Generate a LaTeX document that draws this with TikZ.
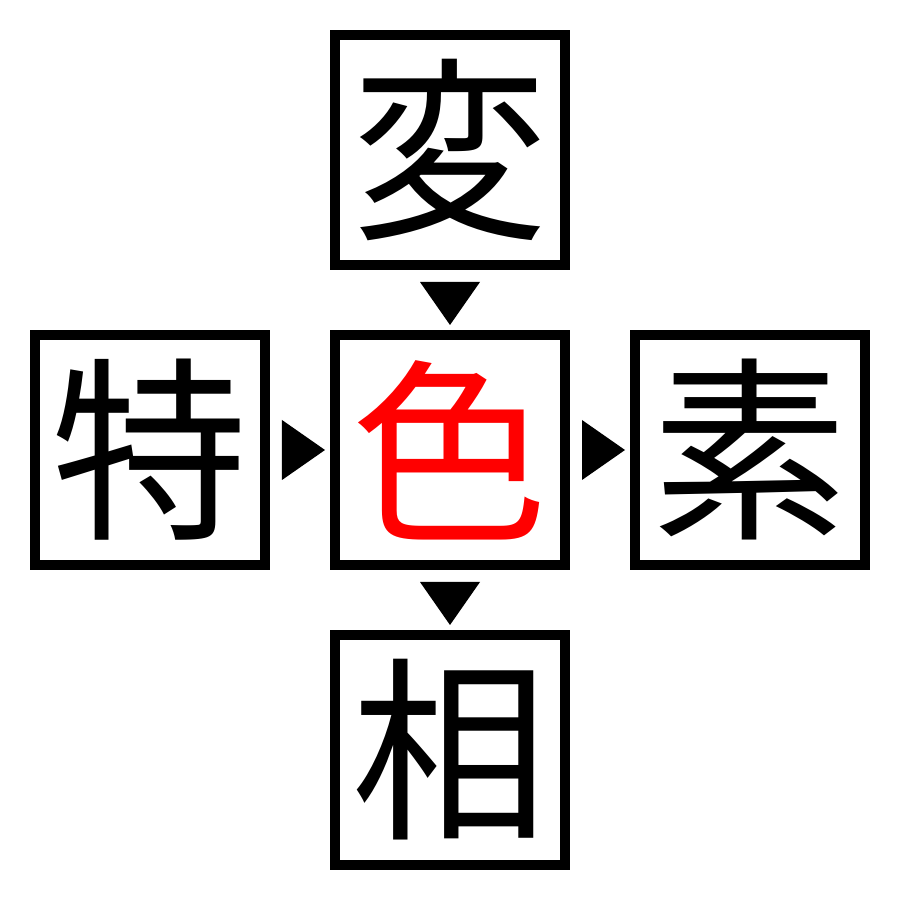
\documentclass[tikz,border=0pt]{standalone}
\usepackage{fontspec}
\newfontfamily\cjk{Noto Sans CJK JP}
\usetikzlibrary{positioning,calc}

\begin{document}
\begin{tikzpicture}[
        kanjibox/.style={draw, line width=0.1cm, minimum size=2.3cm, inner sep=0pt,
            font=\cjk\fontsize{56}{56}\selectfont},
        pointer/.style={fill=black}
    ]
        \useasboundingbox (0,0) rectangle (9,9);
        % Boxes
        \node[kanjibox, text=red] (mid) at (4.5,4.5) {色};
        \node[kanjibox, above=0.6cm of mid] (top) {変};
        \node[kanjibox, below=0.6cm of mid] (bot) {相};
        \node[kanjibox, left=0.6cm of mid] (left) {特};
        \node[kanjibox, right=0.6cm of mid] (right) {素};
        % Downward pointers
        \foreach \a in {top, mid} {
                \fill[pointer] ($(\a.south)+(-0.3,-0.12)$) -- ($(\a.south)+(0.3,-0.12)$)
                    -- ($(\a.south)+(0,-0.55)$) -- cycle;
            }
        % Rightward pointers
        \foreach \a in {left, mid} {
                \fill[pointer] ($(\a.east)+(0.12,0.3)$) -- ($(\a.east)+(0.12,-0.3)$)
                    -- ($(\a.east)+(0.55,0)$) -- cycle;
            }
    \end{tikzpicture}
\end{document}
